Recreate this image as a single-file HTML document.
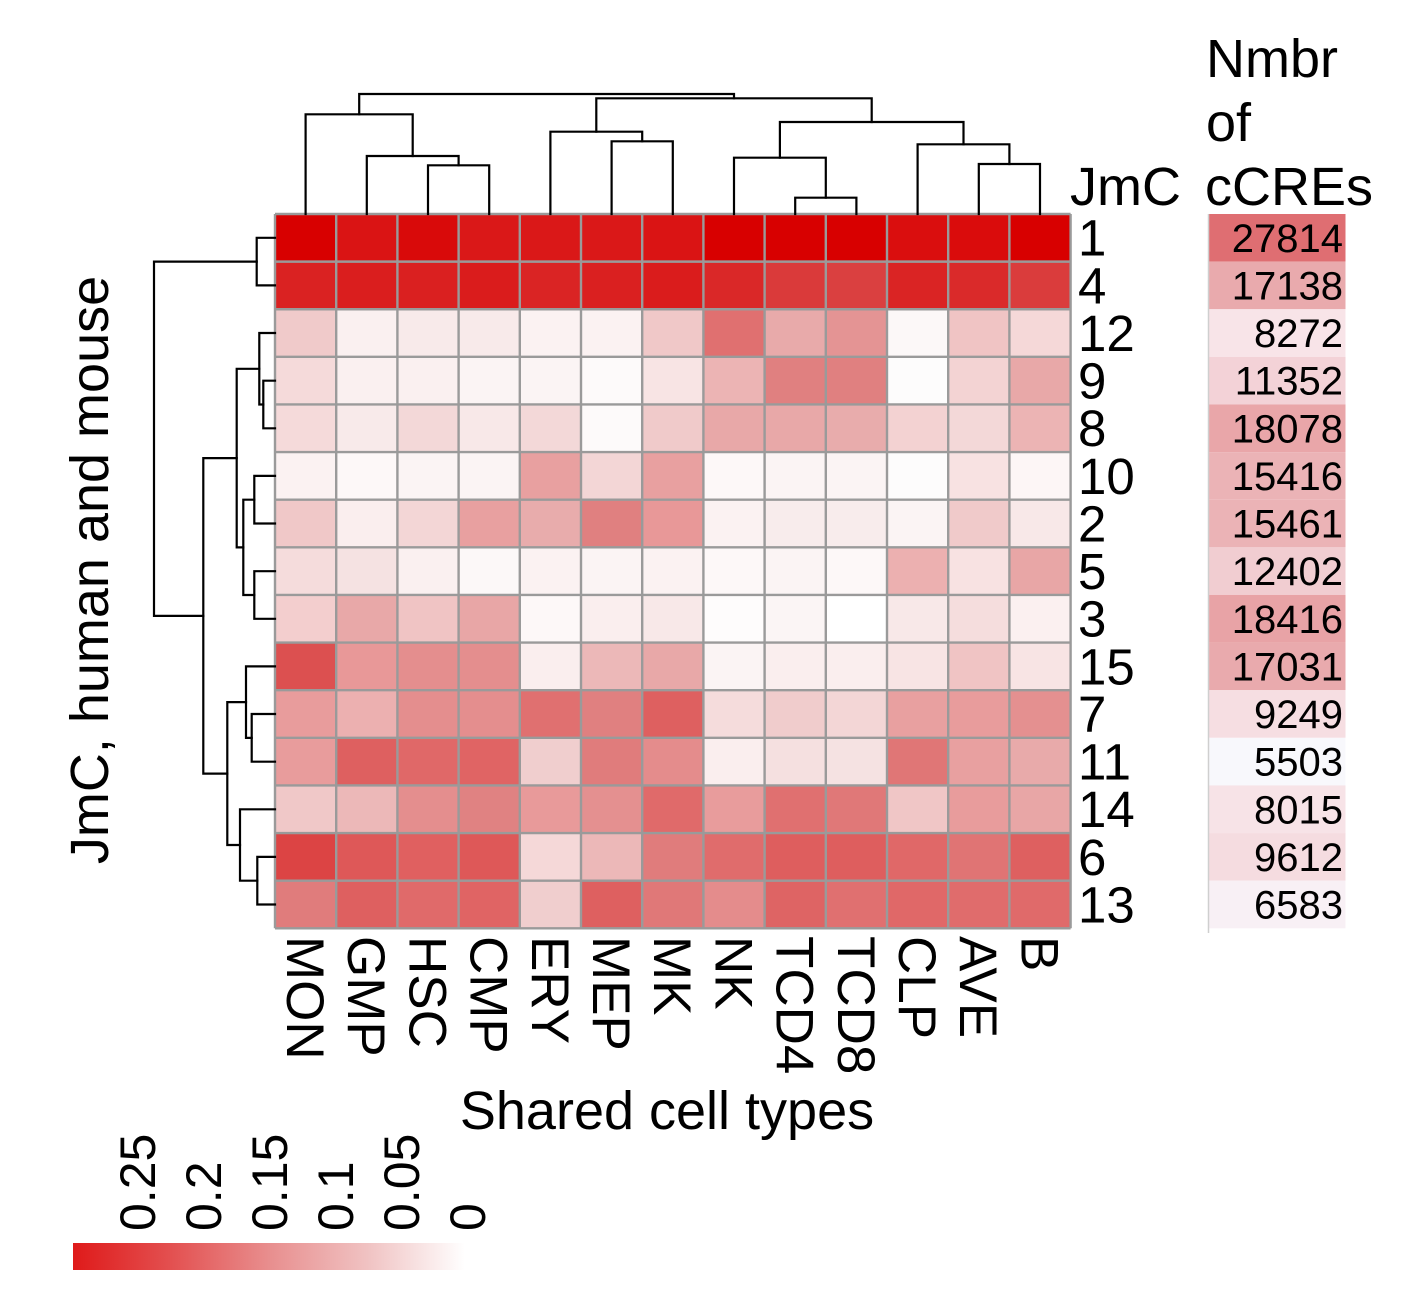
<!DOCTYPE html>
<html><head><meta charset="utf-8"><style>
html,body{margin:0;padding:0;background:#fff;}
svg{display:block;font-family:"Liberation Sans",Arial,sans-serif;}
</style></head><body>
<svg width="1404" height="1304" viewBox="0 0 1404 1304" xmlns="http://www.w3.org/2000/svg">
<rect width="1404" height="1304" fill="#fff"/>
<g id="cells" stroke="none">
<g transform="translate(0,214)">
<rect x="275" width="61.2" height="47.62" fill="#D80000"/><rect x="336.2" width="61.2" height="47.62" fill="#DA1414"/><rect x="397.4" width="61.2" height="47.62" fill="#D90A0A"/><rect x="458.6" width="61.2" height="47.62" fill="#DA1818"/><rect x="519.8" width="61.2" height="47.62" fill="#DA1818"/><rect x="581" width="61.2" height="47.62" fill="#DA1818"/><rect x="642.2" width="61.2" height="47.62" fill="#DA1414"/><rect x="703.4" width="61.2" height="47.62" fill="#D80000"/><rect x="764.6" width="61.2" height="47.62" fill="#D80000"/><rect x="825.8" width="61.2" height="47.62" fill="#D80000"/><rect x="887" width="61.2" height="47.62" fill="#DA0E0E"/><rect x="948.2" width="61.2" height="47.62" fill="#DA0C0C"/><rect x="1009.4" width="61.2" height="47.62" fill="#D80000"/>
</g>
<g transform="translate(0,261.62)">
<rect x="275" width="61.2" height="47.62" fill="#DA2222"/><rect x="336.2" width="61.2" height="47.62" fill="#DA1E1E"/><rect x="397.4" width="61.2" height="47.62" fill="#DA2020"/><rect x="458.6" width="61.2" height="47.62" fill="#DA1C1C"/><rect x="519.8" width="61.2" height="47.62" fill="#DA2424"/><rect x="581" width="61.2" height="47.62" fill="#DA2020"/><rect x="642.2" width="61.2" height="47.62" fill="#DA1C1C"/><rect x="703.4" width="61.2" height="47.62" fill="#DA2828"/><rect x="764.6" width="61.2" height="47.62" fill="#DA3A3A"/><rect x="825.8" width="61.2" height="47.62" fill="#DA4040"/><rect x="887" width="61.2" height="47.62" fill="#DA2424"/><rect x="948.2" width="61.2" height="47.62" fill="#DA2A2A"/><rect x="1009.4" width="61.2" height="47.62" fill="#DA3C3C"/>
</g>
<g transform="translate(0,309.24)">
<rect x="275" width="61.2" height="47.62" fill="#F0CACA"/><rect x="336.2" width="61.2" height="47.62" fill="#FAF0F0"/><rect x="397.4" width="61.2" height="47.62" fill="#F8EAEA"/><rect x="458.6" width="61.2" height="47.62" fill="#F8EAEA"/><rect x="519.8" width="61.2" height="47.62" fill="#FBF2F2"/><rect x="581" width="61.2" height="47.62" fill="#FBF2F2"/><rect x="642.2" width="61.2" height="47.62" fill="#F0C8C8"/><rect x="703.4" width="61.2" height="47.62" fill="#E07070"/><rect x="764.6" width="61.2" height="47.62" fill="#E8AAAA"/><rect x="825.8" width="61.2" height="47.62" fill="#E49494"/><rect x="887" width="61.2" height="47.62" fill="#FCF8F8"/><rect x="948.2" width="61.2" height="47.62" fill="#F0C4C4"/><rect x="1009.4" width="61.2" height="47.62" fill="#F5D8D8"/>
</g>
<g transform="translate(0,356.86)">
<rect x="275" width="61.2" height="47.62" fill="#F5DADA"/><rect x="336.2" width="61.2" height="47.62" fill="#FAF0F0"/><rect x="397.4" width="61.2" height="47.62" fill="#FAF0F0"/><rect x="458.6" width="61.2" height="47.62" fill="#FBF4F4"/><rect x="519.8" width="61.2" height="47.62" fill="#FBF4F4"/><rect x="581" width="61.2" height="47.62" fill="#FDFAFA"/><rect x="642.2" width="61.2" height="47.62" fill="#F8E4E4"/><rect x="703.4" width="61.2" height="47.62" fill="#ECB4B4"/><rect x="764.6" width="61.2" height="47.62" fill="#E08080"/><rect x="825.8" width="61.2" height="47.62" fill="#E08080"/><rect x="887" width="61.2" height="47.62" fill="#FDFCFC"/><rect x="948.2" width="61.2" height="47.62" fill="#F3D3D3"/><rect x="1009.4" width="61.2" height="47.62" fill="#E8A8A8"/>
</g>
<g transform="translate(0,404.48)">
<rect x="275" width="61.2" height="47.62" fill="#F5DADA"/><rect x="336.2" width="61.2" height="47.62" fill="#F8EAEA"/><rect x="397.4" width="61.2" height="47.62" fill="#F3D8D8"/><rect x="458.6" width="61.2" height="47.62" fill="#F8E8E8"/><rect x="519.8" width="61.2" height="47.62" fill="#F3D8D8"/><rect x="581" width="61.2" height="47.62" fill="#FDFAFA"/><rect x="642.2" width="61.2" height="47.62" fill="#F0CACA"/><rect x="703.4" width="61.2" height="47.62" fill="#E8A8A8"/><rect x="764.6" width="61.2" height="47.62" fill="#E8A8A8"/><rect x="825.8" width="61.2" height="47.62" fill="#E8ACAC"/><rect x="887" width="61.2" height="47.62" fill="#F3D2D2"/><rect x="948.2" width="61.2" height="47.62" fill="#F3D8D8"/><rect x="1009.4" width="61.2" height="47.62" fill="#ECB4B4"/>
</g>
<g transform="translate(0,452.1)">
<rect x="275" width="61.2" height="47.62" fill="#FBF2F2"/><rect x="336.2" width="61.2" height="47.62" fill="#FDF8F8"/><rect x="397.4" width="61.2" height="47.62" fill="#FBF4F4"/><rect x="458.6" width="61.2" height="47.62" fill="#FBF4F4"/><rect x="519.8" width="61.2" height="47.62" fill="#E8A0A0"/><rect x="581" width="61.2" height="47.62" fill="#F3D6D6"/><rect x="642.2" width="61.2" height="47.62" fill="#E8A0A0"/><rect x="703.4" width="61.2" height="47.62" fill="#FDF8F8"/><rect x="764.6" width="61.2" height="47.62" fill="#FBF4F4"/><rect x="825.8" width="61.2" height="47.62" fill="#FBF4F4"/><rect x="887" width="61.2" height="47.62" fill="#FDFCFC"/><rect x="948.2" width="61.2" height="47.62" fill="#F8E2E2"/><rect x="1009.4" width="61.2" height="47.62" fill="#FDF6F6"/>
</g>
<g transform="translate(0,499.72)">
<rect x="275" width="61.2" height="47.62" fill="#F0C8C8"/><rect x="336.2" width="61.2" height="47.62" fill="#FAEEEE"/><rect x="397.4" width="61.2" height="47.62" fill="#F3D6D6"/><rect x="458.6" width="61.2" height="47.62" fill="#E8A0A0"/><rect x="519.8" width="61.2" height="47.62" fill="#E8ACAC"/><rect x="581" width="61.2" height="47.62" fill="#E08080"/><rect x="642.2" width="61.2" height="47.62" fill="#E89898"/><rect x="703.4" width="61.2" height="47.62" fill="#FBF2F2"/><rect x="764.6" width="61.2" height="47.62" fill="#F8ECEC"/><rect x="825.8" width="61.2" height="47.62" fill="#F8ECEC"/><rect x="887" width="61.2" height="47.62" fill="#FBF4F4"/><rect x="948.2" width="61.2" height="47.62" fill="#F0CACA"/><rect x="1009.4" width="61.2" height="47.62" fill="#F8E8E8"/>
</g>
<g transform="translate(0,547.34)">
<rect x="275" width="61.2" height="47.62" fill="#F5DCDC"/><rect x="336.2" width="61.2" height="47.62" fill="#F5E2E2"/><rect x="397.4" width="61.2" height="47.62" fill="#FAF0F0"/><rect x="458.6" width="61.2" height="47.62" fill="#FCF8F8"/><rect x="519.8" width="61.2" height="47.62" fill="#FBF2F2"/><rect x="581" width="61.2" height="47.62" fill="#FBF4F4"/><rect x="642.2" width="61.2" height="47.62" fill="#FBF2F2"/><rect x="703.4" width="61.2" height="47.62" fill="#FDF8F8"/><rect x="764.6" width="61.2" height="47.62" fill="#FBF4F4"/><rect x="825.8" width="61.2" height="47.62" fill="#FDF8F8"/><rect x="887" width="61.2" height="47.62" fill="#ECB0B0"/><rect x="948.2" width="61.2" height="47.62" fill="#F8E2E2"/><rect x="1009.4" width="61.2" height="47.62" fill="#E8A6A6"/>
</g>
<g transform="translate(0,594.96)">
<rect x="275" width="61.2" height="47.62" fill="#F3CECE"/><rect x="336.2" width="61.2" height="47.62" fill="#E8A8A8"/><rect x="397.4" width="61.2" height="47.62" fill="#F0C4C4"/><rect x="458.6" width="61.2" height="47.62" fill="#E8A6A6"/><rect x="519.8" width="61.2" height="47.62" fill="#FDF8F8"/><rect x="581" width="61.2" height="47.62" fill="#FAEEEE"/><rect x="642.2" width="61.2" height="47.62" fill="#F8E8E8"/><rect x="703.4" width="61.2" height="47.62" fill="#FEFCFC"/><rect x="764.6" width="61.2" height="47.62" fill="#FBF5F5"/><rect x="825.8" width="61.2" height="47.62" fill="#FFFFFF"/><rect x="887" width="61.2" height="47.62" fill="#F8E8E8"/><rect x="948.2" width="61.2" height="47.62" fill="#F5DDDD"/><rect x="1009.4" width="61.2" height="47.62" fill="#FBF0F0"/>
</g>
<g transform="translate(0,642.58)">
<rect x="275" width="61.2" height="47.62" fill="#DC5050"/><rect x="336.2" width="61.2" height="47.62" fill="#E89898"/><rect x="397.4" width="61.2" height="47.62" fill="#E48E8E"/><rect x="458.6" width="61.2" height="47.62" fill="#E48E8E"/><rect x="519.8" width="61.2" height="47.62" fill="#FAEEEE"/><rect x="581" width="61.2" height="47.62" fill="#ECB8B8"/><rect x="642.2" width="61.2" height="47.62" fill="#E8A8A8"/><rect x="703.4" width="61.2" height="47.62" fill="#FBF4F4"/><rect x="764.6" width="61.2" height="47.62" fill="#FAEEEE"/><rect x="825.8" width="61.2" height="47.62" fill="#FAEEEE"/><rect x="887" width="61.2" height="47.62" fill="#F8E4E4"/><rect x="948.2" width="61.2" height="47.62" fill="#F0C4C4"/><rect x="1009.4" width="61.2" height="47.62" fill="#F8E4E4"/>
</g>
<g transform="translate(0,690.2)">
<rect x="275" width="61.2" height="47.62" fill="#E89C9C"/><rect x="336.2" width="61.2" height="47.62" fill="#ECB0B0"/><rect x="397.4" width="61.2" height="47.62" fill="#E48E8E"/><rect x="458.6" width="61.2" height="47.62" fill="#E48E8E"/><rect x="519.8" width="61.2" height="47.62" fill="#E07070"/><rect x="581" width="61.2" height="47.62" fill="#E08080"/><rect x="642.2" width="61.2" height="47.62" fill="#DE6060"/><rect x="703.4" width="61.2" height="47.62" fill="#F5DCDC"/><rect x="764.6" width="61.2" height="47.62" fill="#F0CCCC"/><rect x="825.8" width="61.2" height="47.62" fill="#F3D6D6"/><rect x="887" width="61.2" height="47.62" fill="#E8A0A0"/><rect x="948.2" width="61.2" height="47.62" fill="#E89C9C"/><rect x="1009.4" width="61.2" height="47.62" fill="#E49090"/>
</g>
<g transform="translate(0,737.82)">
<rect x="275" width="61.2" height="47.62" fill="#E89C9C"/><rect x="336.2" width="61.2" height="47.62" fill="#DE6060"/><rect x="397.4" width="61.2" height="47.62" fill="#E06868"/><rect x="458.6" width="61.2" height="47.62" fill="#E06464"/><rect x="519.8" width="61.2" height="47.62" fill="#F0CECE"/><rect x="581" width="61.2" height="47.62" fill="#E07C7C"/><rect x="642.2" width="61.2" height="47.62" fill="#E48C8C"/><rect x="703.4" width="61.2" height="47.62" fill="#FAEEEE"/><rect x="764.6" width="61.2" height="47.62" fill="#F5E0E0"/><rect x="825.8" width="61.2" height="47.62" fill="#F5E2E2"/><rect x="887" width="61.2" height="47.62" fill="#E07676"/><rect x="948.2" width="61.2" height="47.62" fill="#E8A0A0"/><rect x="1009.4" width="61.2" height="47.62" fill="#E8AAAA"/>
</g>
<g transform="translate(0,785.44)">
<rect x="275" width="61.2" height="47.62" fill="#F0C8C8"/><rect x="336.2" width="61.2" height="47.62" fill="#ECB8B8"/><rect x="397.4" width="61.2" height="47.62" fill="#E48E8E"/><rect x="458.6" width="61.2" height="47.62" fill="#E08282"/><rect x="519.8" width="61.2" height="47.62" fill="#E89A9A"/><rect x="581" width="61.2" height="47.62" fill="#E49090"/><rect x="642.2" width="61.2" height="47.62" fill="#E06A6A"/><rect x="703.4" width="61.2" height="47.62" fill="#E89C9C"/><rect x="764.6" width="61.2" height="47.62" fill="#E07070"/><rect x="825.8" width="61.2" height="47.62" fill="#E07878"/><rect x="887" width="61.2" height="47.62" fill="#F0C6C6"/><rect x="948.2" width="61.2" height="47.62" fill="#E89C9C"/><rect x="1009.4" width="61.2" height="47.62" fill="#E8A6A6"/>
</g>
<g transform="translate(0,833.06)">
<rect x="275" width="61.2" height="47.62" fill="#DC4444"/><rect x="336.2" width="61.2" height="47.62" fill="#DE5858"/><rect x="397.4" width="61.2" height="47.62" fill="#E06060"/><rect x="458.6" width="61.2" height="47.62" fill="#DE5858"/><rect x="519.8" width="61.2" height="47.62" fill="#F5D8D8"/><rect x="581" width="61.2" height="47.62" fill="#ECB8B8"/><rect x="642.2" width="61.2" height="47.62" fill="#E07C7C"/><rect x="703.4" width="61.2" height="47.62" fill="#E06C6C"/><rect x="764.6" width="61.2" height="47.62" fill="#DE5E5E"/><rect x="825.8" width="61.2" height="47.62" fill="#DE5E5E"/><rect x="887" width="61.2" height="47.62" fill="#E06868"/><rect x="948.2" width="61.2" height="47.62" fill="#E07474"/><rect x="1009.4" width="61.2" height="47.62" fill="#DE6060"/>
</g>
<g transform="translate(0,880.68)">
<rect x="275" width="61.2" height="47.62" fill="#E07C7C"/><rect x="336.2" width="61.2" height="47.62" fill="#DE6060"/><rect x="397.4" width="61.2" height="47.62" fill="#E06A6A"/><rect x="458.6" width="61.2" height="47.62" fill="#E06464"/><rect x="519.8" width="61.2" height="47.62" fill="#F0CECE"/><rect x="581" width="61.2" height="47.62" fill="#DE6060"/><rect x="642.2" width="61.2" height="47.62" fill="#E07878"/><rect x="703.4" width="61.2" height="47.62" fill="#E48C8C"/><rect x="764.6" width="61.2" height="47.62" fill="#DE6464"/><rect x="825.8" width="61.2" height="47.62" fill="#E07070"/><rect x="887" width="61.2" height="47.62" fill="#E06868"/><rect x="948.2" width="61.2" height="47.62" fill="#E06C6C"/><rect x="1009.4" width="61.2" height="47.62" fill="#E06A6A"/>
</g>
</g>
<g stroke="#9A9A9A" stroke-width="2.4" fill="none">
<path d="M275 214V928.3M336.2 214V928.3M397.4 214V928.3M458.6 214V928.3M519.8 214V928.3M581 214V928.3M642.2 214V928.3M703.4 214V928.3M764.6 214V928.3M825.8 214V928.3M887 214V928.3M948.2 214V928.3M1009.4 214V928.3M1070.6 214V928.3"/>
<path d="M275 214H1070.6M275 261.62H1070.6M275 309.24H1070.6M275 356.86H1070.6M275 404.48H1070.6M275 452.1H1070.6M275 499.72H1070.6M275 547.34H1070.6M275 594.96H1070.6M275 642.58H1070.6M275 690.2H1070.6M275 737.82H1070.6M275 785.44H1070.6M275 833.06H1070.6M275 880.68H1070.6M275 928.3H1070.6"/>
</g>
<g stroke="#000" stroke-width="2.2" fill="none" stroke-linecap="square">
<path d="M428 214V165.3H489.2V214"/>
<path d="M366.8 214V156H458.6V165.3"/>
<path d="M305.6 214V114.3H412.7V156"/>
<path d="M611.6 214V141.3H672.8V214"/>
<path d="M550.4 214V131.7H642.2V141.3"/>
<path d="M795.2 214V197.7H856.4V214"/>
<path d="M734 214V157.7H825.8V197.7"/>
<path d="M978.8 214V164H1040V214"/>
<path d="M917.6 214V144.3H1009.4V164"/>
<path d="M779.9 157.7V122H963.5V144.3"/>
<path d="M596.3 131.7V98.3H871.7V122"/>
<path d="M359.2 114.3V94H734V98.3"/>
</g>
<g stroke="#000" stroke-width="2.2" fill="none" stroke-linecap="square">
<path d="M275 237.8H256.7V285.4H275"/>
<path d="M275 380.7H263.3V428.3H275"/>
<path d="M275 333H259.3V404.5H263.3"/>
<path d="M275 475.9H254.3V523.5H275"/>
<path d="M275 571.2H254.3V618.8H275"/>
<path d="M254.3 499.7H243.3V595H254.3"/>
<path d="M259.3 368.8H236.7V547.4H243.3"/>
<path d="M275 714H251.7V761.7H275"/>
<path d="M275 666.4H246V737.9H251.7"/>
<path d="M275 856.9H257.3V904.5H275"/>
<path d="M275 809.3H240V880.7H257.3"/>
<path d="M246 702.1H227.3V845H240"/>
<path d="M236.7 458.1H203.3V773.6H227.3"/>
<path d="M256.7 261.6H154V615.9H203.3"/>
</g>
<g font-size="51" fill="#000">
<text x="1078" y="237.8" dy=".35em">1</text>
<text x="1078" y="285.4" dy=".35em">4</text>
<text x="1078" y="333" dy=".35em">12</text>
<text x="1078" y="380.7" dy=".35em">9</text>
<text x="1078" y="428.3" dy=".35em">8</text>
<text x="1078" y="475.9" dy=".35em">10</text>
<text x="1078" y="523.5" dy=".35em">2</text>
<text x="1078" y="571.2" dy=".35em">5</text>
<text x="1078" y="618.8" dy=".35em">3</text>
<text x="1078" y="666.4" dy=".35em">15</text>
<text x="1078" y="714" dy=".35em">7</text>
<text x="1078" y="761.7" dy=".35em">11</text>
<text x="1078" y="809.3" dy=".35em">14</text>
<text x="1078" y="856.9" dy=".35em">6</text>
<text x="1078" y="904.5" dy=".35em">13</text>
</g>
<g font-size="54" fill="#000">
<text x="1070" y="205">JmC</text>
<text x="1206" y="77">Nmbr</text>
<text x="1206" y="141">of</text>
<text x="1205" y="205">cCREs</text>
</g>
<g>
<rect x="1208.5" y="214" width="137" height="47.62" fill="#DF6E72"/>
<rect x="1208.5" y="261.62" width="137" height="47.62" fill="#E9AAAD"/>
<rect x="1208.5" y="309.24" width="137" height="47.62" fill="#F8E4E8"/>
<rect x="1208.5" y="356.86" width="137" height="47.62" fill="#F3D2D7"/>
<rect x="1208.5" y="404.48" width="137" height="47.62" fill="#E9A6A9"/>
<rect x="1208.5" y="452.1" width="137" height="47.62" fill="#EBB3B6"/>
<rect x="1208.5" y="499.72" width="137" height="47.62" fill="#EBB3B6"/>
<rect x="1208.5" y="547.34" width="137" height="47.62" fill="#F1CDD1"/>
<rect x="1208.5" y="594.96" width="137" height="47.62" fill="#E8A3A6"/>
<rect x="1208.5" y="642.58" width="137" height="47.62" fill="#E9AAAD"/>
<rect x="1208.5" y="690.2" width="137" height="47.62" fill="#F6DEE2"/>
<rect x="1208.5" y="737.82" width="137" height="47.62" fill="#F8F8FC"/>
<rect x="1208.5" y="785.44" width="137" height="47.62" fill="#F7E3E7"/>
<rect x="1208.5" y="833.06" width="137" height="47.62" fill="#F5DCE0"/>
<rect x="1208.5" y="880.68" width="137" height="47.62" fill="#F8F0F5"/>
<line x1="1208.5" y1="214" x2="1208.5" y2="933" stroke="#CFCFCF" stroke-width="1.5"/>
</g>
<g font-size="40" fill="#000" text-anchor="end">
<text x="1343" y="237.8" dy=".35em">27814</text>
<text x="1343" y="285.4" dy=".35em">17138</text>
<text x="1343" y="333" dy=".35em">8272</text>
<text x="1343" y="380.7" dy=".35em">11352</text>
<text x="1343" y="428.3" dy=".35em">18078</text>
<text x="1343" y="475.9" dy=".35em">15416</text>
<text x="1343" y="523.5" dy=".35em">15461</text>
<text x="1343" y="571.2" dy=".35em">12402</text>
<text x="1343" y="618.8" dy=".35em">18416</text>
<text x="1343" y="666.4" dy=".35em">17031</text>
<text x="1343" y="714" dy=".35em">9249</text>
<text x="1343" y="761.7" dy=".35em">5503</text>
<text x="1343" y="809.3" dy=".35em">8015</text>
<text x="1343" y="856.9" dy=".35em">9612</text>
<text x="1343" y="904.5" dy=".35em">6583</text>
</g>
<g font-size="53" fill="#000">
<text transform="translate(305.6,936) rotate(90)" dy=".35em">MON</text>
<text transform="translate(366.8,936) rotate(90)" dy=".35em">GMP</text>
<text transform="translate(428,936) rotate(90)" dy=".35em">HSC</text>
<text transform="translate(489.2,936) rotate(90)" dy=".35em">CMP</text>
<text transform="translate(550.4,936) rotate(90)" dy=".35em">ERY</text>
<text transform="translate(611.6,936) rotate(90)" dy=".35em">MEP</text>
<text transform="translate(672.8,936) rotate(90)" dy=".35em">MK</text>
<text transform="translate(734,936) rotate(90)" dy=".35em">NK</text>
<text transform="translate(795.2,936) rotate(90)" dy=".35em">TCD4</text>
<text transform="translate(856.4,936) rotate(90)" dy=".35em">TCD8</text>
<text transform="translate(917.6,936) rotate(90)" dy=".35em">CLP</text>
<text transform="translate(978.8,936) rotate(90)" dy=".35em">AVE</text>
<text transform="translate(1040,936) rotate(90)" dy=".35em">B</text>
</g>
<text x="667" y="1129" font-size="54" text-anchor="middle" fill="#000">Shared cell types</text>
<text transform="translate(108,570) rotate(-90)" font-size="54" text-anchor="middle" fill="#000">JmC, human and mouse</text>
<defs>
<linearGradient id="lg" x1="0" x2="1" y1="0" y2="0">
<stop offset="0" stop-color="#DF1A1A"/>
<stop offset="0.25" stop-color="#E35050"/>
<stop offset="0.5" stop-color="#E88E8E"/>
<stop offset="0.75" stop-color="#F0C2C2"/>
<stop offset="1" stop-color="#FFFFFF"/>
</linearGradient>
</defs>
<rect x="73" y="1243" width="392" height="27" fill="url(#lg)"/>
<g font-size="50" fill="#000">
<text transform="translate(155,1231) rotate(-90)">0.25</text>
<text transform="translate(221,1231) rotate(-90)">0.2</text>
<text transform="translate(287,1231) rotate(-90)">0.15</text>
<text transform="translate(353,1231) rotate(-90)">0.1</text>
<text transform="translate(419,1231) rotate(-90)">0.05</text>
<text transform="translate(485,1231) rotate(-90)">0</text>
</g>
</svg>
</body></html>
